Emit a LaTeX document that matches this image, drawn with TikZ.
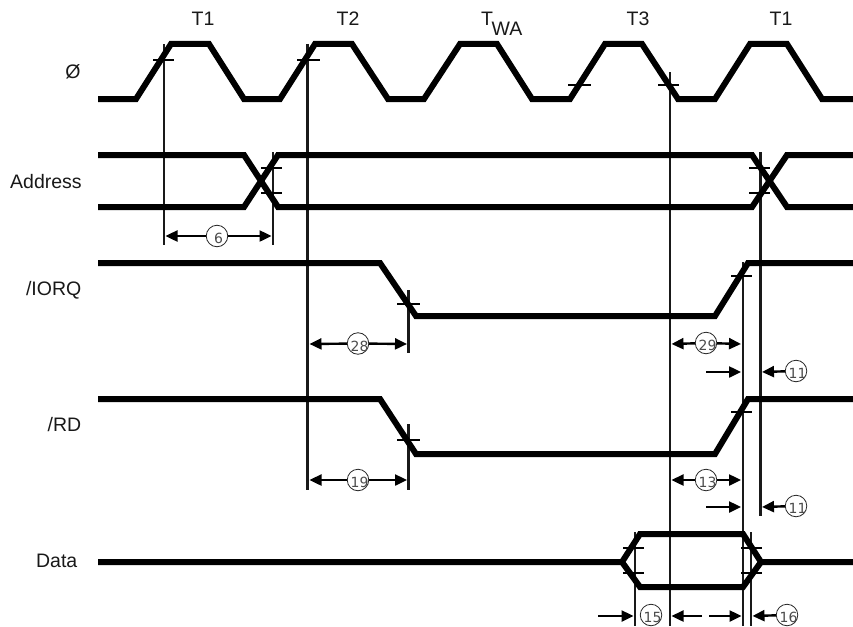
\documentclass[tikz,border=0pt]{standalone}
\usepackage{fontspec}
\setmainfont{Liberation Sans}
\newfontfamily\numfont{DejaVu Sans}
\usetikzlibrary{arrows.meta}
\tikzset{
  x=1pt,y=-1pt,
  signal/.style={line width=6pt,line join=miter,black},
  tick/.style={line width=2.2pt,black},
  vline/.style={line width=2.1pt,black!90},
  lab/.style={font=\fontsize{19.5}{19.5}\selectfont,inner sep=0pt,text=black!90},
  num/.style={circle,draw=black!85,line width=0.8pt,minimum size=21.5pt,inner sep=0pt,fill=white},
  numtxt/.style={font=\numfont\fontsize{14}{14}\selectfont,inner sep=0pt,text=black!70},
  dim/.style={line width=2.4pt,black,-{Triangle[length=12pt,width=11pt]},shorten >=0.5pt},
}
\newcommand{\numnode}[4]{% name, x, y, text
  \node[num] (#1) at (#2,#3) {};
  \node[numtxt] (#1t) at (#2+1.5,#3+2.5) {#4};
}
\begin{document}
\begin{tikzpicture}
\useasboundingbox (0,0) rectangle (853,626);
\fill[white] (0,0) rectangle (853,626);

% labels
\node[lab,anchor=base] (t1a) at (203,26) {T1};
\node[lab,anchor=base] (t2) at (348,26) {T2};
\node[lab,anchor=base] (twa) at (487,25.5) {T};
\node[lab,anchor=base] (wa) at (507,35.5) {WA};
\node[lab,anchor=base] (t3) at (638,26) {T3};
\node[lab,anchor=base] (t1b) at (781,26) {T1};
\node[lab,anchor=base] (phi) at (73,78.5) {Ø};
\begin{scope}
  \clip (0,165) rectangle (81.5,200);
  \node[lab,anchor=base west] (addr) at (10,188) {Address};
\end{scope}
\node[lab,anchor=base east] (iorq) at (81.5,295) {/IORQ};
\node[lab,anchor=base east] (rd) at (81.5,431) {/RD};
\node[lab,anchor=base east] (data) at (77.5,567) {Data};

% vertical reference lines
\coordinate (v1a) at (164,44); \coordinate (v1b) at (164,245);
\coordinate (v2a) at (307.5,44); \coordinate (v2b) at (307.5,490);
\coordinate (v3a) at (273,152); \coordinate (v3b) at (273,245);
\coordinate (v4a) at (670,72); \coordinate (v4b) at (670,626);
\coordinate (v5a) at (760.5,152); \coordinate (v5b) at (760.5,516);
\coordinate (v6a) at (743,262); \coordinate (v6b) at (743,626);
\coordinate (v7a) at (408.5,290); \coordinate (v7b) at (408.5,353);
\coordinate (v8a) at (408.5,424); \coordinate (v8b) at (408.5,490);
\coordinate (v9a) at (635,532); \coordinate (v9b) at (635,626);
\coordinate (v10a) at (751,532); \coordinate (v10b) at (751,626);
\foreach \n in {1,...,10} \draw[vline] (v\n a) -- (v\n b);

% waveforms
\draw[signal] (98,99) -- (136,99) -- (171,44) -- (209,44) -- (244,99)
  -- (280,99) -- (315,44) -- (352,44) -- (388,99)
  -- (424,99) -- (460,44) -- (497,44) -- (532,99)
  -- (570,99) -- (605,44) -- (642,44) -- (678,99)
  -- (715,99) -- (750,44) -- (787,44) -- (822,99) -- (853,99);
\draw[signal] (98,155) -- (244,155) -- (278,207) -- (752,207) -- (787,155) -- (853,155);
\draw[signal] (98,207) -- (244,207) -- (278,155) -- (752,155) -- (787,207) -- (853,207);
\draw[signal] (98,263) -- (380,263) -- (416,316) -- (715,316) -- (748,263) -- (853,263);
\draw[signal] (98,399) -- (380,399) -- (416,454) -- (715,454) -- (748,399) -- (853,399);
\draw[signal] (98,562) -- (622,562) -- (640,534) -- (743,534) -- (761,562) -- (853,562);
\draw[signal] (622,562) -- (640,587) -- (743,587) -- (761,562);

% threshold ticks
\foreach \xa/\xb/\y in {153/174/60, 297/320/60, 568/591/85, 658/679/85,
  261/282/168, 261/282/193, 749/770/168, 749/770/193,
  397/420/304, 731/752/276, 397/420/440, 731/752/412,
  623/644/548, 623/644/573, 741/762/548, 741/762/573}
  \draw[tick] (\xa,\y) -- (\xb,\y);

% numbered circles
\numnode{n6}{217}{236}{6}
\numnode{n28}{358}{343.5}{28}
\numnode{n19}{358}{480}{19}
\numnode{n29}{706}{343}{29}
\numnode{n13}{706}{480}{13}
\numnode{n11a}{796}{371}{11}
\numnode{n11b}{796}{506}{11}
\numnode{n15}{651}{615}{15}
\numnode{n16}{787}{615}{16}

% dimension arrows
\coordinate (a6l) at (165,236); \coordinate (a6r) at (272,236);
\coordinate (a28l) at (309,344); \coordinate (a28r) at (407.5,344);
\coordinate (a19l) at (309,480); \coordinate (a19r) at (407.5,480);
\coordinate (a29l) at (671,344); \coordinate (a29r) at (741.5,344);
\coordinate (a13l) at (671,480); \coordinate (a13r) at (741.5,480);
\coordinate (c1) at (706,372); \coordinate (c1e) at (741.5,372);
\coordinate (c2e) at (761.5,372);
\coordinate (c3) at (706,507); \coordinate (c3e) at (741.5,507);
\coordinate (c4e) at (761.5,507);
\coordinate (d1) at (598,616); \coordinate (d1e) at (634,616);
\coordinate (d2) at (702,616); \coordinate (d2e) at (671,616);
\coordinate (d3) at (709,616); \coordinate (d3e) at (742,616);
\coordinate (d4e) at (752,616);
\draw[dim] (n6) -- (a6l); \draw[dim] (n6) -- (a6r);
\draw[dim] (n28) -- (a28l); \draw[dim] (n28) -- (a28r);
\draw[dim] (n19) -- (a19l); \draw[dim] (n19) -- (a19r);
\draw[dim] (n29) -- (a29l); \draw[dim] (n29) -- (a29r);
\draw[dim] (n13) -- (a13l); \draw[dim] (n13) -- (a13r);
\draw[dim] (c1) -- (c1e);
\draw[dim] (n11a) -- (c2e);
\draw[dim] (c3) -- (c3e);
\draw[dim] (n11b) -- (c4e);
\draw[dim] (d1) -- (d1e);
\draw[dim] (d2) -- (d2e);
\draw[dim] (d3) -- (d3e);
\draw[dim] (n16) -- (d4e);
\end{tikzpicture}
\end{document}
